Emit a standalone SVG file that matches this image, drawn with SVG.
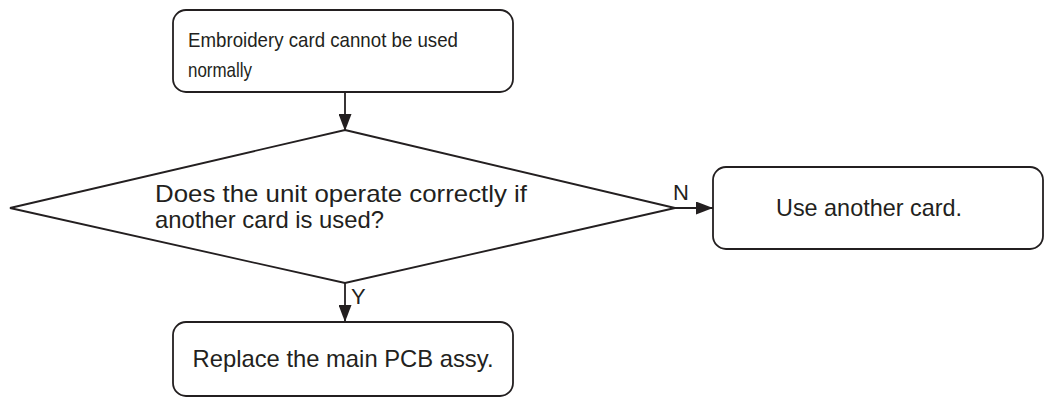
<svg xmlns="http://www.w3.org/2000/svg" width="1045" height="397" viewBox="0 0 1045 397">
<style>
.box{fill:#fff;stroke:#231f20;stroke-width:1.8}
.ln{fill:none;stroke:#231f20;stroke-width:1.8}
text{font-family:"Liberation Sans",Arial,sans-serif;fill:#231f20}
.s{font-size:21px}
.m{font-size:24px}
.l{font-size:22px}
</style>
<defs>
<marker id="ah" markerWidth="17" markerHeight="13" refX="17" refY="6.5" orient="auto" markerUnits="userSpaceOnUse" viewBox="0 0 17 13">
<path d="M0,0 L17,6.5 L0,13 Z" fill="#231f20"/>
</marker>
</defs>
<rect width="1045" height="397" fill="#fff"/>
<g id="connectors">
<line class="ln" x1="345" y1="92" x2="345" y2="131" marker-end="url(#ah)"/>
<line class="ln" x1="675" y1="208" x2="713" y2="208" marker-end="url(#ah)"/>
<line class="ln" x1="345" y1="283" x2="345" y2="322" marker-end="url(#ah)"/>
<text class="l" x="673" y="200">N</text>
<text class="l" x="351" y="304">Y</text>
</g>
<g id="start">
<rect class="box" x="173" y="10" width="340" height="82" rx="13"/>
<text class="s" x="188" y="47" textLength="270" lengthAdjust="spacingAndGlyphs">Embroidery card cannot be used</text>
<text class="s" x="188" y="77" textLength="64" lengthAdjust="spacingAndGlyphs">normally</text>
</g>
<g id="decision">
<polygon class="box" points="345,130 675,208 345,283 10,208"/>
<text class="m" x="155" y="202" textLength="372" lengthAdjust="spacingAndGlyphs">Does the unit operate correctly if</text>
<text class="m" x="155" y="228" textLength="229" lengthAdjust="spacingAndGlyphs">another card is used?</text>
</g>
<g id="use-another">
<rect class="box" x="713" y="167" width="330" height="82" rx="13"/>
<text class="m" x="869" y="216" text-anchor="middle" textLength="186" lengthAdjust="spacingAndGlyphs">Use another card.</text>
</g>
<g id="replace">
<rect class="box" x="173" y="322" width="340" height="74" rx="13"/>
<text class="m" x="343" y="367" text-anchor="middle" textLength="301" lengthAdjust="spacingAndGlyphs">Replace the main PCB assy.</text>
</g>
</svg>
